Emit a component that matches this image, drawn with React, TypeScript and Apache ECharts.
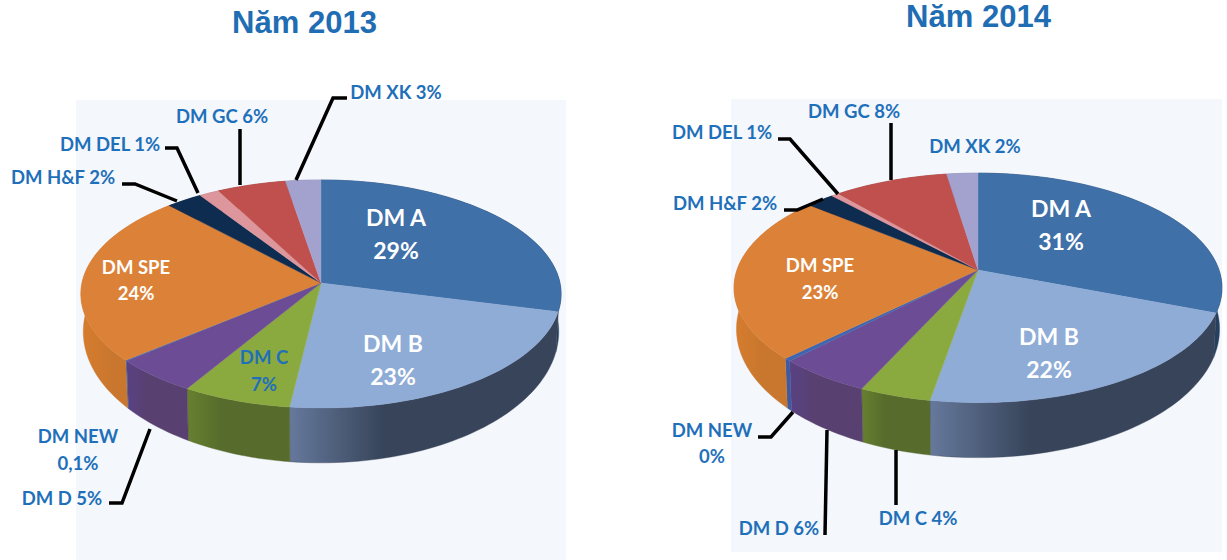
import React, { useEffect, useRef } from "react";
import * as echarts from "echarts";

const sliceNames = ["DM A", "DM B", "DM C", "DM D", "DM NEW", "DM SPE", "DM H&F", "DM DEL", "DM GC", "DM XK"];
const values2013 = [29.0, 22.9, 6.7, 5.2, 0.1, 24.2, 2.7, 1.5, 5.1, 2.6];
const values2014 = [30.9, 21.8, 4.1, 5.4, 0.4, 23.4, 2.2, 0.6, 8.8, 2.4];
const titleTexts = ["Năm 2013", "Năm 2014"];

const topColors = ["#3f70a8", "#8facd6", "#8aa93f", "#6c4c94", "#4166b0", "#dc8238", "#0e2b50", "#dc969c", "#c0504d", "#a3a2cf"];
const wallFrom = ["#2d4f7c", "#66799c", "#66802f", "#5a4284", "#3f5aa0", "#d67c2e", "#0c2340", "#a86a70", "#8c3a38", "#7c7ba0"];
const wallTo = ["#26405f", "#37445a", "#566b2c", "#584070", "#3f5aa0", "#c9772e", "#0c2340", "#a86a70", "#8c3a38", "#7c7ba0"];

type Pie = { cx: number; cy: number; rx: number; ry: number; k: number; s: number; t: number; b: number };
const pie2013: Pie = { cx: 321, cy: 283, rx: 239, ry: 113, k: 0.0965, s: 0.99, t: 1.15, b: 36 };
const pie2014: Pie = { cx: 978, cy: 270, rx: 241, ry: 112, k: 0.156, s: 0.99, t: 1.12, b: 39 };

function project(p: Pie, theta: number): [number, number] {
  const u = Math.sin(theta);
  const v = -Math.cos(theta);
  const d = 1 - p.k * v;
  return [p.cx + (p.rx * u) / d, p.cy + (p.ry * v) / d];
}

function arc(p: Pie, a0: number, a1: number): [number, number][] {
  const n = Math.max(2, Math.ceil(((a1 - a0) / (Math.PI * 2)) * 240));
  const pts: [number, number][] = [];
  for (let i = 0; i <= n; i++) pts.push(project(p, a0 + ((a1 - a0) * i) / n));
  return pts;
}

function angles(values: number[]): [number, number][] {
  const sum = values.reduce((a, b) => a + b, 0);
  let acc = 0;
  return values.map((v) => {
    const a0 = (acc / sum) * Math.PI * 2;
    acc += v;
    return [a0, (acc / sum) * Math.PI * 2] as [number, number];
  });
}

function wallSeries(name: string, values: number[], p: Pie) {
  const ang = angles(values);
  return {
    type: "custom",
    name,
    coordinateSystem: "none",
    z: 2,
    silent: true,
    data: values.map((v, i) => ({ name: sliceNames[i], value: v })),
    renderItem: (params: any) => {
      const i = params.dataIndex;
      const [a0, a1] = ang[i];
      const top = arc(p, a0, a1);
      const bottom = top
        .map(([x, y]) => [p.cx + (x - p.cx) * p.s, p.cy + (y - p.cy) * p.t + p.b])
        .reverse();
      const fill = new echarts.graphic.LinearGradient(0, 0, 1, 0, [
        { offset: 0, color: wallFrom[i] },
        { offset: 0.35, color: wallTo[i] },
        { offset: 1, color: wallTo[i] },
      ]);
      return {
        type: "polygon",
        shape: { points: [...top, ...bottom] },
        style: { fill, stroke: wallTo[i], lineWidth: 0.4 },
      };
    },
  };
}

function topSeries(name: string, values: number[], p: Pie) {
  const ang = angles(values);
  return {
    type: "custom",
    name,
    coordinateSystem: "none",
    z: 3,
    silent: true,
    data: values.map((v, i) => ({ name: sliceNames[i], value: v })),
    renderItem: (params: any) => {
      const i = params.dataIndex;
      const [a0, a1] = ang[i];
      return {
        type: "polygon",
        shape: { points: [[p.cx, p.cy], ...arc(p, a0, a1)] },
        style: { fill: topColors[i], stroke: topColors[i], lineWidth: 0.4 },
      };
    },
  };
}

const BLUE = "#1f70ba";
const FONT = "Lato";
const SMALL = 18.5;
const LARGE = 23;

function label(text: string, x: number, y: number, fill: string, size: number) {
  return {
    type: "text",
    z: 20,
    silent: true,
    style: {
      text,
      x,
      y,
      fill,
      font: `bold ${size}px ${FONT}, "Noto Sans", sans-serif`,
      textAlign: "center",
      textVerticalAlign: "middle",
    },
  };
}

function leader(points: number[][]) {
  return {
    type: "polyline",
    z: 15,
    silent: true,
    shape: { points },
    style: { stroke: "#000", lineWidth: 3.5, fill: "none" },
  };
}

function panel(x: number, y: number, width: number, height: number) {
  return {
    type: "rect",
    z: 0,
    silent: true,
    shape: { x, y, width, height },
    style: { fill: "#f4f7fb" },
  };
}

const graphicElements = [
  panel(76, 100, 490, 460),
  panel(731, 99, 491, 453),
  // 2013 labels
  label("DM A", 396, 217, "#ffffff", LARGE),
  label("29%", 396, 250, "#ffffff", LARGE),
  label("DM B", 393, 343, "#ffffff", LARGE),
  label("23%", 393, 376, "#ffffff", LARGE),
  label("DM SPE", 136, 267, "#ffffff", SMALL),
  label("24%", 136, 293, "#ffffff", SMALL),
  label("DM C", 264, 357, BLUE, SMALL),
  label("7%", 264, 384, BLUE, SMALL),
  label("DM GC 6%", 222, 116, BLUE, SMALL),
  label("DM DEL 1%", 110, 144, BLUE, SMALL),
  label("DM H&F 2%", 63, 177, BLUE, SMALL),
  label("DM XK 3%", 396, 92, BLUE, SMALL),
  label("DM NEW", 78, 436, BLUE, SMALL),
  label("0,1%", 78, 463, BLUE, SMALL),
  label("DM D 5%", 62, 498, BLUE, SMALL),
  // 2014 labels
  label("DM A", 1061, 208, "#ffffff", LARGE),
  label("31%", 1061, 241, "#ffffff", LARGE),
  label("DM B", 1049, 336, "#ffffff", LARGE),
  label("22%", 1049, 369, "#ffffff", LARGE),
  label("DM SPE", 820, 265, "#ffffff", SMALL),
  label("23%", 820, 292, "#ffffff", SMALL),
  label("DM GC 8%", 854, 111, BLUE, SMALL),
  label("DM DEL 1%", 722, 132, BLUE, SMALL),
  label("DM H&F 2%", 725, 203, BLUE, SMALL),
  label("DM XK 2%", 975, 146, BLUE, SMALL),
  label("DM NEW", 712, 430, BLUE, SMALL),
  label("0%", 712, 456, BLUE, SMALL),
  label("DM D 6%", 779, 528, BLUE, SMALL),
  label("DM C 4%", 918, 518, BLUE, SMALL),
  // 2013 leaders
  leader([[122, 184], [135, 184], [177, 201]]),
  leader([[165, 148], [177, 148], [198, 193]]),
  leader([[240, 129], [240, 185]]),
  leader([[347, 98], [333, 98], [296, 180]]),
  leader([[109, 503], [122, 503], [150, 429]]),
  // 2014 leaders
  leader([[778, 139], [790, 139], [838, 194]]),
  leader([[784, 210], [797, 210], [823, 199]]),
  leader([[891, 123], [891, 180]]),
  leader([[758, 437], [771, 437], [793, 412]]),
  leader([[825, 535], [827, 430]]),
  leader([[896, 505], [896, 450]]),
];

export default function App() {
  const ref = useRef<HTMLDivElement>(null);
  useEffect(() => {
    const chart = echarts.init(ref.current!, null, { renderer: "svg" });
    const titleStyle = { color: "#1f6db3", fontSize: 31, fontWeight: "bold", fontFamily: "Liberation Sans" };
    chart.setOption({
      animation: false,
      backgroundColor: "#ffffff",
      title: [
        { text: titleTexts[0], left: 304.5, top: 7, padding: 0, textAlign: "center", textStyle: titleStyle },
        { text: titleTexts[1], left: 978.5, top: 1, padding: 0, textAlign: "center", textStyle: titleStyle },
      ],
      graphic: graphicElements,
      series: [
        wallSeries("2013 walls", values2013, pie2013),
        topSeries("2013", values2013, pie2013),
        wallSeries("2014 walls", values2014, pie2014),
        topSeries("2014", values2014, pie2014),
      ],
    });
    return () => chart.dispose();
  }, []);
  return <div ref={ref} style={{ position: "absolute", left: 0, top: 0, width: 1227, height: 560 }} />;
}
